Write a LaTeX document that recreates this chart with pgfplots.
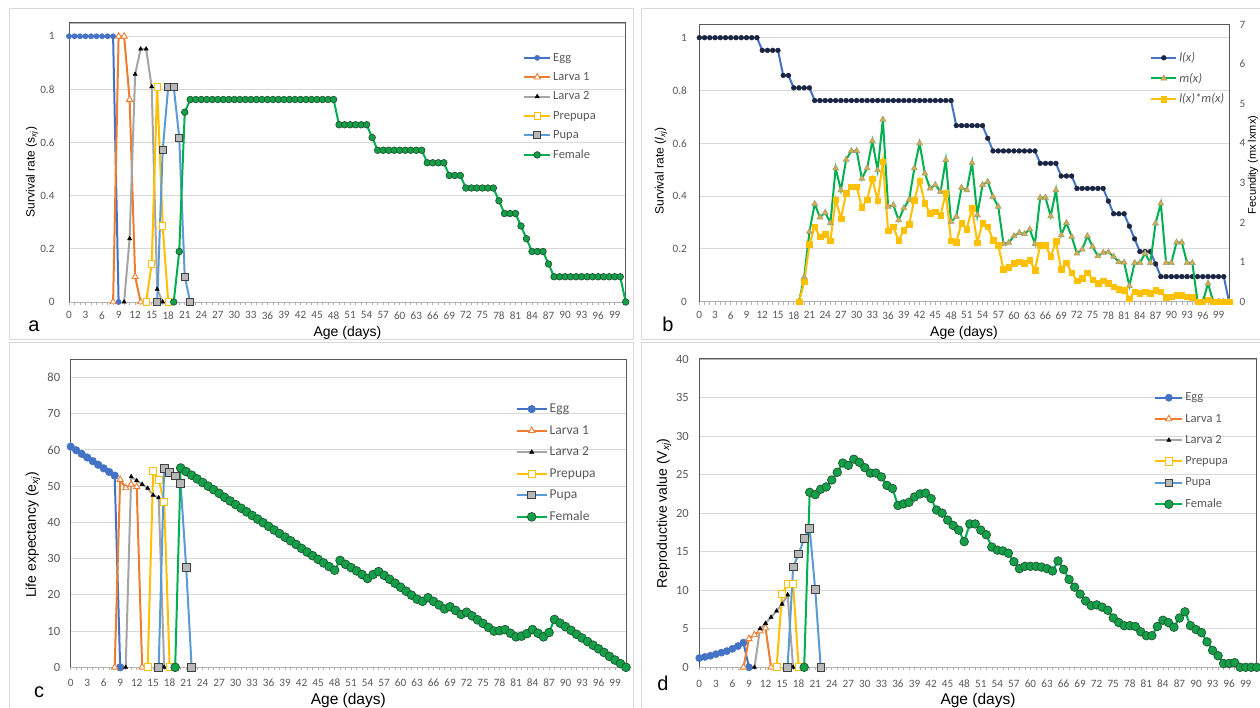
\documentclass[border=0pt]{standalone}
\usepackage{fontspec}
\setmainfont{Liberation Sans}
\newfontfamily\carl{Carlito}
\usepackage{pgfplots}
\pgfplotsset{compat=1.18}
\usepackage{pgfplotstable}

\definecolor{cEgg}{HTML}{4472C4}
\definecolor{cLa}{HTML}{ED7D31}
\definecolor{cLb}{HTML}{A5A5A5}
\definecolor{cPre}{HTML}{FFC000}
\definecolor{cPupa}{HTML}{5B9BD5}
\definecolor{cPupaF}{HTML}{B8B8B8}
\definecolor{cFem}{HTML}{00B050}
\definecolor{cFemF}{HTML}{13A048}
\definecolor{cFemD}{HTML}{1E5631}
\definecolor{cNavy}{HTML}{1B2440}
\definecolor{cLx}{HTML}{4472C4}
\definecolor{cTri}{HTML}{D4B04A}
\definecolor{cTriD}{HTML}{A39C72}
\definecolor{cTick}{HTML}{595959}
\definecolor{cGrid}{HTML}{D9D9D9}
\definecolor{cFrame}{HTML}{D9D9D9}

\pgfplotstableread{
x y
19 0
20 0.190
21 0.714
22 0.762
23 0.762
24 0.762
25 0.762
26 0.762
27 0.762
28 0.762
29 0.762
30 0.762
31 0.762
32 0.762
33 0.762
34 0.762
35 0.762
36 0.762
37 0.762
38 0.762
39 0.762
40 0.762
41 0.762
42 0.762
43 0.762
44 0.762
45 0.762
46 0.762
47 0.762
48 0.762
49 0.667
50 0.667
51 0.667
52 0.667
53 0.667
54 0.667
55 0.619
56 0.571
57 0.571
58 0.571
59 0.571
60 0.571
61 0.571
62 0.571
63 0.571
64 0.571
65 0.524
66 0.524
67 0.524
68 0.524
69 0.476
70 0.476
71 0.476
72 0.429
73 0.429
74 0.429
75 0.429
76 0.429
77 0.429
78 0.381
79 0.333
80 0.333
81 0.333
82 0.286
83 0.238
84 0.190
85 0.190
86 0.190
87 0.143
88 0.095
89 0.095
90 0.095
91 0.095
92 0.095
93 0.095
94 0.095
95 0.095
96 0.095
97 0.095
98 0.095
99 0.095
100 0.095
101 0
}\femA

\pgfplotstableread{
x y
0 1
1 1
2 1
3 1
4 1
5 1
6 1
7 1
8 1
9 1
10 1
11 1
12 0.952
13 0.952
14 0.952
15 0.952
16 0.857
17 0.857
18 0.810
19 0.810
20 0.810
21 0.810
22 0.762
23 0.762
24 0.762
25 0.762
26 0.762
27 0.762
28 0.762
29 0.762
30 0.762
31 0.762
32 0.762
33 0.762
34 0.762
35 0.762
36 0.762
37 0.762
38 0.762
39 0.762
40 0.762
41 0.762
42 0.762
43 0.762
44 0.762
45 0.762
46 0.762
47 0.762
48 0.762
49 0.667
50 0.667
51 0.667
52 0.667
53 0.667
54 0.667
55 0.619
56 0.571
57 0.571
58 0.571
59 0.571
60 0.571
61 0.571
62 0.571
63 0.571
64 0.571
65 0.524
66 0.524
67 0.524
68 0.524
69 0.476
70 0.476
71 0.476
72 0.429
73 0.429
74 0.429
75 0.429
76 0.429
77 0.429
78 0.381
79 0.333
80 0.333
81 0.333
82 0.286
83 0.238
84 0.190
85 0.190
86 0.190
87 0.143
88 0.095
89 0.095
90 0.095
91 0.095
92 0.095
93 0.095
94 0.095
95 0.095
96 0.095
97 0.095
98 0.095
99 0.095
100 0.095
101 0
}\lxB

\pgfplotstableread{
x m lm
19 0 0
20 0.62 0.50
21 1.77 1.45
22 2.47 1.89
23 2.13 1.64
24 2.25 1.71
25 1.99 1.54
26 3.37 2.58
27 2.82 2.10
28 3.59 2.74
29 3.81 2.90
30 3.81 2.90
31 3.11 2.38
32 3.37 2.58
33 4.06 3.11
34 3.32 2.55
35 4.60 3.54
36 2.40 1.79
37 2.44 1.89
38 2.06 1.54
39 2.36 1.81
40 2.57 1.96
41 3.37 2.57
42 4.00 3.06
43 3.24 2.48
44 2.86 2.23
45 2.95 2.27
46 2.78 2.19
47 3.58 2.74
48 2.02 1.54
49 2.15 1.50
50 2.88 1.98
51 2.82 1.83
52 3.51 2.36
53 2.19 1.49
54 2.95 1.98
55 3.03 1.89
56 2.65 1.56
57 2.40 1.43
58 1.46 0.82
59 1.49 0.87
60 1.66 0.97
61 1.74 1.01
62 1.71 0.97
63 1.83 1.05
64 1.46 0.80
65 2.63 1.43
66 2.63 1.43
67 2.16 1.14
68 2.82 1.52
69 1.68 0.82
70 1.99 0.98
71 1.64 0.73
72 1.22 0.53
73 1.32 0.59
74 1.66 0.73
75 1.39 0.56
76 1.15 0.46
77 1.24 0.53
78 1.25 0.46
79 1.14 0.38
80 1.00 0.31
81 0.99 0.29
82 0.40 0.08
83 0.98 0.25
84 0.98 0.21
85 1.22 0.25
86 0.98 0.21
87 1.98 0.29
88 2.48 0.25
89 0.98 0.11
90 0.98 0.13
91 1.50 0.17
92 1.50 0.17
93 0.98 0.13
94 0.98 0.11
95 0 0
96 0 0
97 0.46 0.05
98 0 0
99 0 0
100 0 0
101 0 0
}\mxB

\pgfplotstableread{
x y
19 0
20 55.0
21 54.0
22 53.0
23 52.0
24 51.0
25 50.0
26 49.0
27 48.0
28 46.9
29 45.9
30 44.9
31 43.9
32 42.9
33 41.9
34 40.9
35 39.9
36 38.9
37 37.9
38 36.9
39 35.9
40 34.9
41 33.9
42 32.8
43 31.8
44 30.8
45 29.8
46 28.8
47 27.8
48 26.8
49 29.5
50 28.4
51 27.5
52 26.6
53 25.6
54 24.5
55 25.6
56 26.4
57 25.4
58 24.3
59 23.2
60 22.1
61 21.0
62 19.9
63 18.8
64 18.2
65 19.2
66 18.2
67 17.2
68 16.1
69 16.7
70 15.7
71 14.6
72 15.2
73 14.2
74 13.1
75 12.1
76 11.0
77 10.0
78 10.1
79 10.4
80 9.4
81 8.4
82 8.6
83 9.3
84 10.4
85 9.4
86 8.4
87 9.6
88 13.2
89 12.2
90 11.2
91 10.2
92 9.1
93 8.1
94 7.1
95 6.1
96 5.1
97 4.1
98 3.0
99 2.0
100 1.0
101 0
}\femC

\pgfplotstableread{
x y
19 0
20 22.7
21 22.4
22 23.1
23 23.4
24 24.3
25 25.3
26 26.5
27 26.2
28 27.0
29 26.6
30 25.9
31 25.2
32 25.2
33 24.7
34 23.6
35 23.2
36 21.0
37 21.2
38 21.4
39 22.1
40 22.5
41 22.6
42 21.9
43 20.4
44 20.0
45 19.1
46 18.4
47 17.8
48 16.3
49 18.6
50 18.6
51 17.8
52 17.2
53 15.6
54 15.2
55 15.1
56 14.8
57 13.7
58 12.8
59 13.1
60 13.1
61 13.1
62 13.0
63 12.8
64 12.5
65 13.8
66 12.7
67 11.4
68 10.4
69 9.5
70 8.6
71 8.0
72 8.1
73 7.8
74 7.4
75 6.4
76 5.8
77 5.4
78 5.4
79 5.3
80 4.6
81 4.1
82 4.1
83 5.3
84 6.1
85 5.8
86 5.2
87 6.4
88 7.2
89 5.4
90 4.9
91 4.5
92 3.3
93 2.2
94 1.5
95 0.5
96 0.5
97 0.6
98 0
99 0
100 0
101 0
}\femD

\pgfplotsset{
  leglen/.style={legend image code/.code={\draw[mark repeat=2,mark phase=2,##1] plot coordinates {(0pt,0pt) (#1/2,0pt) (#1,0pt)};}},
  panel/.style={
    scale only axis, anchor=south west,
    xmin=0, xmax=101, ymin=0,
    xtick={0,3,...,99}, minor x tick num=2,
    xtick pos=bottom, ytick pos=left,
    tick align=outside,
    major tick length=3pt, minor tick length=3pt,
    x tick style={draw=black!30, line width=0.6pt},
    minor x tick style={draw=black!30, line width=0.6pt},
    ytick style={draw=none},
    ymajorgrids, major grid style={draw=cGrid, line width=0.8pt},
    separate axis lines,
    x axis line style={draw=black!30, line width=0.8pt},
    y axis line style={draw=black!65, line width=1pt},
    /pgf/number format/assume math mode=true,
    tick label style={font=\carl\fontsize{11.2}{13}\selectfont, text=cTick},
    clip=false,
    legend cell align=left,
    legend style={draw=none, fill=none, inner sep=0pt, font=\carl\fontsize{12.5}{14}\selectfont, text=cTick, row sep=5.8pt, anchor=north west},
    after end axis/.code={\draw[black!65, line width=1pt] (rel axis cs:0,1) -- (rel axis cs:1,1);},
    every axis plot/.append style={line width=2pt},
  },
  sEgg/.style={cEgg, mark=*, mark size=2.6pt, mark options={fill=cEgg, draw=cEgg, line width=0.5pt, solid}},
  sLa/.style={cLa, mark=triangle*, mark size=3.6pt, mark options={fill=white, draw=cLa, line width=0.9pt, solid}},
  sLb/.style={cLb, mark=triangle*, mark size=2.4pt, mark options={fill=black, draw=black, line width=0.5pt, solid}},
  sPre/.style={cPre, mark=square*, mark size=3.2pt, mark options={fill=white, draw=cPre, line width=0.9pt, solid}},
  sPupa/.style={cPupa, mark=square*, mark size=3.4pt, mark options={fill=cPupaF, draw=black!75, line width=0.8pt, solid}},
  sFem/.style={cFem, mark=*, mark size=3.3pt, mark options={fill=cFemF, draw=cFemD, line width=0.7pt, solid}},
  sLx/.style={cLx, line width=2pt, mark=*, mark size=2.4pt, mark options={fill=cNavy, draw=cNavy, line width=0.4pt, solid}},
  sMx/.style={cFem, line width=2pt, mark=triangle*, mark size=3.4pt, mark options={fill=cTri, draw=cTriD, line width=0.6pt, solid}},
  sLm/.style={cPre, line width=2pt, mark=square*, mark size=2.8pt, mark options={fill=cPre, draw=cPre, line width=0.4pt, solid}},
}

\begin{document}
\begin{tikzpicture}
\fill[white] (0pt,0pt) rectangle (1260pt,708pt);
\useasboundingbox (0pt,0pt) rectangle (1260pt,708pt);
% panel frames
\draw[cFrame, line width=1pt] (9pt,368pt) rectangle (633pt,699pt);
\draw[cFrame, line width=1pt] (641pt,368pt) rectangle (1270pt,699pt);
\draw[cFrame, line width=1pt] (9pt,-5pt) rectangle (633pt,365pt);
\draw[cFrame, line width=1pt] (641pt,-5pt) rectangle (1270pt,365pt);

% ---------------- panel a ----------------
\begin{axis}[panel, at={(69pt,406pt)}, width=556.7pt, height=279pt,
  ymax=1.05, ytick={0,0.2,0.4,0.6,0.8,1},
  xticklabel style={yshift=-3pt}, yticklabel style={xshift=-8pt},
  leglen=26pt, legend style={at={(0.8155,0.90)}}]
\addplot[sEgg] coordinates {(0,1)(1,1)(2,1)(3,1)(4,1)(5,1)(6,1)(7,1)(8,1)(9,0)};
\addlegendentry{Egg}
\addplot[sLa] coordinates {(8,0)(9,1)(10,1)(11,0.762)(12,0.095)(13,0)};
\addlegendentry{Larva 1}
\addplot[sLb] coordinates {(10,0)(11,0.238)(12,0.857)(13,0.952)(14,0.952)(15,0.810)(16,0.048)(17,0)};
\addlegendentry{Larva 2}
\addplot[sPre] coordinates {(14,0)(15,0.143)(16,0.810)(17,0.286)(18,0)};
\addlegendentry{Prepupa}
\addplot[sPupa] coordinates {(16,0)(17,0.571)(18,0.810)(19,0.810)(20,0.619)(21,0.095)(22,0)};
\addlegendentry{Pupa}
\addplot[sFem] table[x=x,y=y] {\femA};
\addlegendentry{Female}
\end{axis}

% ---------------- panel b ----------------
\begin{axis}[panel, at={(699.3pt,406.3pt)}, width=529.7pt, height=277.2pt,
  ymax=1.05, ytick={0,0.2,0.4,0.6,0.8,1},
  xticklabel style={yshift=-3.5pt}, yticklabel style={xshift=-6pt}]
\addplot[sLx] table[x=x,y=y] {\lxB};
\end{axis}
\begin{axis}[scale only axis, anchor=south west, at={(699.3pt,406.3pt)}, width=529.7pt, height=277.2pt,
  xmin=0, xmax=101, ymin=0, ymax=7, ytick={0,1,2,3,4,5,6,7},
  axis x line=none, axis y line*=right, ytick style={draw=none},
  y axis line style={draw=black!65, line width=1pt},
  /pgf/number format/assume math mode=true,
  tick label style={font=\carl\fontsize{11.2}{13}\selectfont, text=cTick},
  yticklabel style={xshift=7pt},
  clip=false, legend cell align=left,
  legend style={draw=none, fill=none, inner sep=0pt, font=\carl\itshape\fontsize{12.5}{14}\selectfont, text=cTick, row sep=6pt, anchor=north west, at={(0.851,0.907)}},
  leglen=25pt]
\addlegendimage{sLx}
\addlegendentry{l(x)}
\addplot[sMx] table[x=x,y=m] {\mxB};
\addlegendentry{m(x)}
\addplot[sLm] table[x=x,y=lm] {\mxB};
\addlegendentry{l(x)*m(x)}
\end{axis}

% ---------------- panel c ----------------
\begin{axis}[panel, at={(70.7pt,40.7pt)}, width=555.3pt, height=308pt,
  ymax=85, ytick={0,10,20,30,40,50,60,70,80},
  xticklabel style={yshift=-5pt},
  yticklabel style={font=\carl\fontsize{12.5}{14}\selectfont, xshift=-4pt},
  leglen=30pt, legend style={at={(0.801,0.862)}, font=\carl\fontsize{13.5}{15}\selectfont, row sep=7.3pt}]
\addplot[sEgg, mark size=3.8pt] coordinates {(0,60.9)(1,59.9)(2,58.9)(3,57.9)(4,56.9)(5,55.9)(6,54.9)(7,53.9)(8,52.9)(9,0)};
\addlegendentry{Egg}
\addplot[sLa] coordinates {(8,0)(9,51.8)(10,49.5)(11,50.5)(12,49.8)(13,0)};
\addlegendentry{Larva 1}
\addplot[sLb] coordinates {(10,0)(11,52.6)(12,51.5)(13,50.5)(14,49.4)(15,47.5)(16,46.8)(17,0)};
\addlegendentry{Larva 2}
\addplot[sPre, mark size=3.6pt] coordinates {(14,0)(15,54.2)(16,51.8)(17,45.6)(18,0)};
\addlegendentry{Prepupa}
\addplot[sPupa, mark size=3.8pt] coordinates {(16,0)(17,54.9)(18,53.8)(19,52.8)(20,50.7)(21,27.6)(22,0)};
\addlegendentry{Pupa}
\addplot[sFem, mark size=4.4pt] table[x=x,y=y] {\femC};
\addlegendentry{Female}
\end{axis}

% ---------------- panel d ----------------
\begin{axis}[panel, at={(699.3pt,40.7pt)}, width=557.4pt, height=308.3pt,
  ymax=40, ytick={0,5,10,15,20,25,30,35,40},
  xticklabel style={yshift=-6.5pt},
  yticklabel style={font=\carl\fontsize{12.5}{14}\selectfont, xshift=-4pt},
  leglen=27pt, legend style={at={(0.816,0.897)}, row sep=7.7pt}]
\addplot[sEgg, mark size=3.6pt] coordinates {(0,1.2)(1,1.35)(2,1.5)(3,1.7)(4,1.9)(5,2.1)(6,2.4)(7,2.75)(8,3.2)(9,0)};
\addlegendentry{Egg}
\addplot[sLa] coordinates {(8,0)(9,3.7)(10,4.2)(11,4.7)(12,5.1)(13,0)};
\addlegendentry{Larva 1}
\addplot[sLb] coordinates {(10,0)(11,5.0)(12,5.7)(13,6.5)(14,7.3)(15,8.2)(16,9.4)(17,0)};
\addlegendentry{Larva 2}
\addplot[sPre, mark size=3.6pt] coordinates {(14,0)(15,9.5)(16,10.8)(17,10.8)(18,0)};
\addlegendentry{Prepupa}
\addplot[sPupa, mark size=3.8pt] coordinates {(16,0)(17,13.0)(18,14.7)(19,16.7)(20,18.0)(21,10.1)(22,0)};
\addlegendentry{Pupa}
\addplot[sFem, mark size=4.3pt] table[x=x,y=y] {\femD};
\addlegendentry{Female}
\end{axis}

% axis titles and panel letters
\node[font=\fontsize{14}{16}\selectfont] at (347.4pt,375pt) {Age (days)};
\node[font=\fontsize{14}{16}\selectfont] at (964pt,375pt) {Age (days)};
\node[font=\fontsize{15.5}{17}\selectfont] at (348.3pt,8pt) {Age (days)};
\node[font=\fontsize{15.5}{17}\selectfont] at (978pt,8pt) {Age (days)};
\node[font=\fontsize{12}{14}\selectfont, rotate=90] at (32pt,536pt) {Survival rate (s\textsubscript{\itshape xj})};
\node[font=\fontsize{12}{14}\selectfont, rotate=90] at (661pt,537pt) {Survival rate (\textit{l}\textsubscript{\itshape xj})};
\node[font=\fontsize{11}{13}\selectfont, rotate=90, inner sep=0pt] at (1253pt,543pt) {Fecundity (mx lxmx)};
\node[font=\fontsize{14}{16}\selectfont, rotate=90] at (33pt,173pt) {Life expectancy (e\textsubscript{\itshape xj})};
\node[font=\fontsize{14}{16}\selectfont, rotate=90] at (664pt,194.5pt) {Reproductive value (V\textsubscript{\itshape xj})};
\node[font=\fontsize{20}{22}\selectfont] at (34pt,382pt) {a};
\node[font=\fontsize{20}{22}\selectfont] at (668pt,384pt) {b};
\node[font=\fontsize{20}{22}\selectfont] at (39pt,16pt) {c};
\node[font=\fontsize{20}{22}\selectfont] at (663pt,25pt) {d};
\end{tikzpicture}
\end{document}
